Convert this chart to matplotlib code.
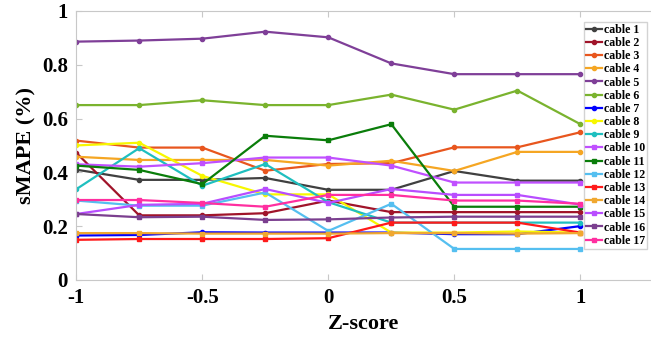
import numpy as np
import matplotlib
matplotlib.use("Agg")
import matplotlib.pyplot as plt

plt.rcParams['font.family'] = ['Liberation Serif', 'DejaVu Serif']
plt.rcParams['font.weight'] = 'bold'

# Z-score grid
z = [-1, -0.75, -0.5, -0.25, 0, 0.25, 0.5, 0.75, 1]

cable1 = [0.41, 0.372, 0.372, 0.379, 0.335, 0.335, 0.405, 0.369, 0.369]
cable2 = [0.473, 0.24, 0.24, 0.248, 0.295, 0.252, 0.252, 0.252, 0.252]
cable3 = [0.518, 0.492, 0.492, 0.406, 0.431, 0.434, 0.493, 0.493, 0.549]
cable4 = [0.458, 0.446, 0.446, 0.446, 0.425, 0.443, 0.405, 0.476, 0.476]
cable5 = [0.886, 0.89, 0.897, 0.923, 0.902, 0.805, 0.765, 0.765, 0.765]
cable6 = [0.65, 0.65, 0.668, 0.65, 0.65, 0.689, 0.633, 0.704, 0.579]
cable7 = [0.165, 0.167, 0.177, 0.176, 0.176, 0.176, 0.17, 0.17, 0.2]
cable8 = [0.5, 0.51, 0.387, 0.318, 0.318, 0.176, 0.176, 0.18, 0.176]
cable9 = [0.337, 0.49, 0.35, 0.431, 0.289, 0.213, 0.213, 0.213, 0.213]
cable10 = [0.43, 0.421, 0.434, 0.455, 0.455, 0.425, 0.362, 0.362, 0.362]
cable11 = [0.425, 0.409, 0.356, 0.536, 0.519, 0.579, 0.272, 0.272, 0.272]
cable12 = [0.295, 0.276, 0.276, 0.325, 0.182, 0.283, 0.115, 0.115, 0.115]
cable13 = [0.149, 0.152, 0.152, 0.152, 0.155, 0.213, 0.213, 0.213, 0.176]
cable14 = [0.174, 0.174, 0.172, 0.172, 0.172, 0.174, 0.174, 0.172, 0.174]
cable15 = [0.245, 0.279, 0.283, 0.338, 0.286, 0.338, 0.316, 0.316, 0.28]
cable16 = [0.245, 0.233, 0.235, 0.223, 0.225, 0.232, 0.235, 0.235, 0.235]
cable17 = [0.297, 0.297, 0.286, 0.272, 0.316, 0.316, 0.295, 0.295, 0.283]

series = [cable1, cable2, cable3, cable4, cable5, cable6, cable7, cable8, cable9,
          cable10, cable11, cable12, cable13, cable14, cable15, cable16, cable17]
labels = ["cable %d" % (i + 1) for i in range(17)]
colors = ['#404040', '#a0142a', '#e8561e', '#f5a623', '#7f3f98', '#7ab32e',
          '#0000ff', '#f7f700', '#1fbfbf', '#c050ff', '#0a7d0a', '#55bff0',
          '#ff1a1a', '#f0a830', '#b84dff', '#7b3f8f', '#ff2fa0']

fig = plt.figure(figsize=(6.51, 3.43), dpi=100)
ax = fig.add_axes([0.117, 0.184, 0.883, 0.784])

for i, (vals, lab, c) in enumerate(zip(series, labels, colors)):
    mk = 'o' if i < 9 else 's'
    ms = 3 if i < 9 else 3.5
    ax.plot(z, vals, color=c, lw=1.6, marker=mk, ms=ms, label=lab)

ax.set_xlim(-1, 1.28)
ax.set_ylim(0, 1)
ax.set_xticks([-1, -0.5, 0, 0.5, 1])
ax.set_xticklabels(['-1', '-0.5', '0', '0.5', '1'])
ax.set_yticks([0, 0.2, 0.4, 0.6, 0.8, 1])
ax.set_yticklabels(['0', '0.2', '0.4', '0.6', '0.8', '1'])
ax.tick_params(direction='in', length=4, color='#c8c8c8', labelsize=15,
               top=True, pad=6)
for s in ax.spines.values():
    s.set_color('#c8c8c8')
ax.spines['right'].set_visible(False)

ax.set_xlabel('Z-score', fontsize=16, fontweight='bold', labelpad=4)
ax.set_ylabel('sMAPE (%)', fontsize=16, fontweight='bold', labelpad=4)

leg = ax.legend(loc='upper left', bbox_to_anchor=(0.897, 0.936),
                bbox_transform=fig.transFigure, fontsize=8.6,
                frameon=True, fancybox=False, borderpad=0.15, labelspacing=0.1,
                handlelength=1.35, handletextpad=0.15, borderaxespad=0)
leg.get_frame().set_edgecolor('#c8c8c8')
leg.get_frame().set_linewidth(1)
for t in leg.get_texts():
    t.set_fontweight('bold')

fig.savefig('out.png', dpi=100)
